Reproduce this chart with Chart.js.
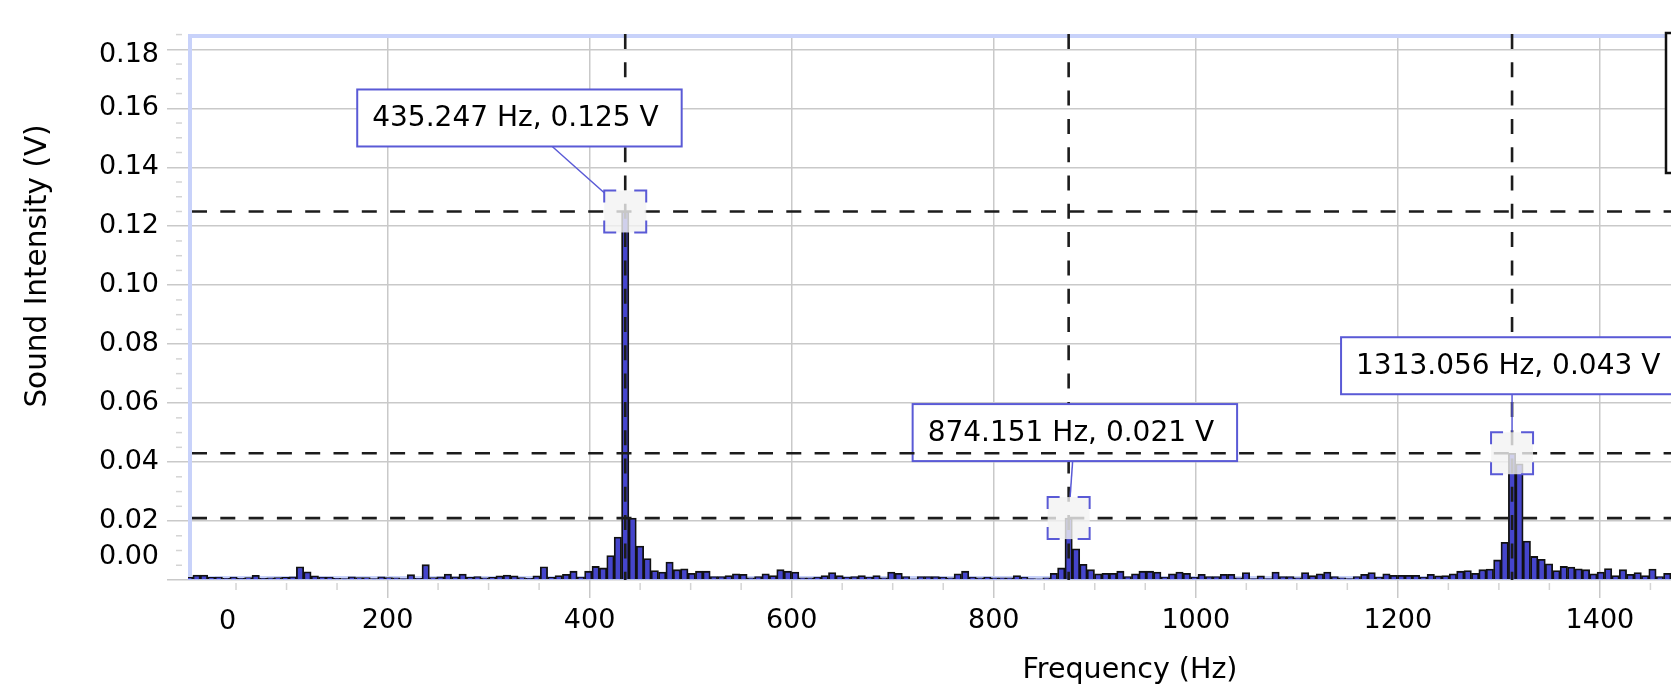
<!DOCTYPE html>
<html>
<head>
<meta charset="utf-8">
<script src="https://cdn.jsdelivr.net/npm/chart.js@4.4.1/dist/chart.umd.min.js"></script>
<style>
  html, body { margin: 0; padding: 0; background: #fff; overflow: hidden; }
  #wrap { width: 2090px; height: 685px; }
</style>
</head>
<body>
<div id="wrap"><canvas id="fft" width="2090" height="685"></canvas></div>
<script>
// FFT bin width in Hz (the peak readouts sit at 59.5, 119.5 and 179.5 bins)
const BIN_HZ = 7.31508;

// amplitude of each FFT bin (V)
const VOLTS = [
  0.0009, 0.0017, 0.0017, 0.0009, 0.0010, 0.0006, 0.0010, 0.0006, 0.0008, 0.0016,
  0.0006, 0.0007, 0.0008, 0.0009, 0.0011, 0.0045, 0.0028, 0.0014, 0.0010, 0.0010,
  0.0006, 0.0005, 0.0011, 0.0008, 0.0008, 0.0005, 0.0011, 0.0008, 0.0007, 0.0005,
  0.0018, 0.0006, 0.0052, 0.0008, 0.0011, 0.0020, 0.0011, 0.0020, 0.0009, 0.0012,
  0.0007, 0.0009, 0.0014, 0.0017, 0.0014, 0.0008, 0.0006, 0.0014, 0.0045, 0.0009,
  0.0015, 0.0019, 0.0030, 0.0010, 0.0030, 0.0046, 0.0041, 0.0083, 0.0146, 0.1250,
  0.0210, 0.0115, 0.0073, 0.0032, 0.0027, 0.0061, 0.0035, 0.0038, 0.0023, 0.0030,
  0.0030, 0.0012, 0.0012, 0.0015, 0.0021, 0.0019, 0.0007, 0.0012, 0.0021, 0.0015,
  0.0035, 0.0030, 0.0027, 0.0007, 0.0007, 0.0010, 0.0015, 0.0025, 0.0015, 0.0010,
  0.0012, 0.0015, 0.0010, 0.0015, 0.0007, 0.0027, 0.0023, 0.0012, 0.0004, 0.0012,
  0.0012, 0.0012, 0.0010, 0.0007, 0.0021, 0.0030, 0.0010, 0.0007, 0.0010, 0.0007,
  0.0007, 0.0007, 0.0015, 0.0010, 0.0005, 0.0004, 0.0007, 0.0023, 0.0041, 0.0210,
  0.0106, 0.0053, 0.0035, 0.0021, 0.0023, 0.0023, 0.0030, 0.0012, 0.0021, 0.0030,
  0.0030, 0.0027, 0.0010, 0.0021, 0.0027, 0.0023, 0.0010, 0.0019, 0.0012, 0.0012,
  0.0019, 0.0019, 0.0007, 0.0025, 0.0005, 0.0014, 0.0005, 0.0027, 0.0012, 0.0012,
  0.0007, 0.0025, 0.0015, 0.0021, 0.0027, 0.0012, 0.0007, 0.0005, 0.0012, 0.0019,
  0.0025, 0.0010, 0.0021, 0.0016, 0.0016, 0.0016, 0.0016, 0.0010, 0.0019, 0.0014,
  0.0015, 0.0021, 0.0030, 0.0032, 0.0023, 0.0035, 0.0037, 0.0068, 0.0128, 0.0430,
  0.0394, 0.0132, 0.0080, 0.0070, 0.0055, 0.0032, 0.0046, 0.0044, 0.0038, 0.0035,
  0.0021, 0.0027, 0.0039, 0.0015, 0.0035, 0.0019, 0.0025, 0.0015, 0.0037, 0.0012,
  0.0023
];
// bin centre frequencies
const FREQS = VOLTS.map((v, k) => (k + 0.5) * BIN_HZ);

const X_TICKS = [0, 200, 400, 600, 800, 1000, 1200, 1400, 1600, 1800];
const Y_TICKS = [0, 0.02, 0.04, 0.06, 0.08, 0.10, 0.12, 0.14, 0.16, 0.18];

// examined peaks
const PEAK_HZ = [435.247, 874.151, 1313.056];
const PEAK_V = [0.125, 0.021, 0.043];

// where each readout box sits relative to its peak (px)
const BOXES = [
  { dx: -268, dy: -122, anchor: -73 },
  { dx: -156, dy: -114, anchor: 4 },
  { dx: -171, dy: -116, anchor: 0 }
];

const FONT = 'DejaVu Sans';
const BLUE = '#5a5ad6';

function clipToArea(ctx, a) {
  ctx.beginPath();
  ctx.rect(a.left, a.top, a.right - a.left, a.bottom - a.top);
  ctx.clip();
}

function dashStyle(ctx) {
  ctx.setLineDash([15, 13.3]);
  ctx.lineWidth = 2.6;
  ctx.strokeStyle = '#1c1c1c';
}

const decorations = {
  id: 'decorations',
  beforeDatasetsDraw(chart) {
    const { ctx, chartArea: a } = chart;
    ctx.save();
    ctx.strokeStyle = '#c8d2fa';
    ctx.lineWidth = 4;
    ctx.strokeRect(a.left + 2, a.top + 2, a.right - a.left - 4, a.bottom - a.top - 4);
    ctx.restore();
  },
  afterDatasetsDraw(chart) {
    const { ctx, chartArea: a, scales: { x, y } } = chart;
    const peaks = PEAK_HZ.map((hz, i) => ({
      px: x.getPixelForValue(hz),
      py: y.getPixelForValue(PEAK_V[i])
    }));
    const H = 21, ARM = 12, BOX_H = 57;

    // vertical crosshairs
    ctx.save();
    clipToArea(ctx, a);
    dashStyle(ctx);
    peaks.forEach(p => {
      ctx.beginPath();
      ctx.moveTo(p.px, a.top);
      ctx.lineTo(p.px, a.bottom);
      ctx.stroke();
    });
    ctx.restore();

    // readout boxes
    ctx.save();
    ctx.font = `28px "${FONT}"`;
    const boxes = peaks.map((p, i) => {
      const text = `${PEAK_HZ[i].toFixed(3)} Hz, ${PEAK_V[i].toFixed(3)} V`;
      const b = BOXES[i];
      const w = ctx.measureText(text).width + 38;
      const bx = p.px + b.dx, by = p.py + b.dy;
      ctx.fillStyle = '#fff';
      ctx.fillRect(bx, by, w, BOX_H);
      ctx.strokeStyle = BLUE;
      ctx.lineWidth = 2;
      ctx.strokeRect(bx, by, w, BOX_H);
      ctx.fillStyle = '#000';
      ctx.textAlign = 'left';
      ctx.textBaseline = 'middle';
      ctx.fillText(text, bx + 15, by + BOX_H / 2 + 1);
      return { ax: p.px + b.anchor, ay: by + BOX_H };
    });
    ctx.restore();

    // horizontal crosshairs
    ctx.save();
    clipToArea(ctx, a);
    dashStyle(ctx);
    peaks.forEach(p => {
      ctx.beginPath();
      ctx.moveTo(a.left + 4, p.py);
      ctx.lineTo(a.right, p.py);
      ctx.stroke();
    });
    ctx.restore();

    // leaders and bracket markers
    ctx.save();
    ctx.strokeStyle = BLUE;
    peaks.forEach((p, i) => {
      const { ax, ay } = boxes[i];
      const ddx = p.px - ax, ddy = p.py - ay;
      const tx = Math.abs(ddx) > H ? (Math.abs(ddx) - H) / Math.abs(ddx) : 0;
      const ty = Math.abs(ddy) > H ? (Math.abs(ddy) - H) / Math.abs(ddy) : 0;
      const t = Math.max(tx, ty);
      ctx.lineWidth = 1.5;
      ctx.beginPath();
      ctx.moveTo(ax, ay);
      ctx.lineTo(ax + ddx * t, ay + ddy * t);
      ctx.stroke();

      ctx.fillStyle = 'rgba(242, 242, 242, 0.8)';
      ctx.fillRect(p.px - H, p.py - H, 2 * H, 2 * H);
      ctx.lineWidth = 2;
      [[-1, -1], [1, -1], [1, 1], [-1, 1]].forEach(([sx, sy]) => {
        const cx = p.px + sx * H, cy = p.py + sy * H;
        ctx.beginPath();
        ctx.moveTo(cx, cy - sy * ARM);
        ctx.lineTo(cx, cy);
        ctx.lineTo(cx - sx * ARM, cy);
        ctx.stroke();
      });
    });
    ctx.restore();

    // stats box at the top right, mostly off screen
    ctx.save();
    ctx.fillStyle = '#fff';
    ctx.strokeStyle = '#111';
    ctx.lineWidth = 2.5;
    ctx.fillRect(1666, 33, 300, 140);
    ctx.strokeRect(1666, 33, 300, 140);
    ctx.restore();
  },
  afterDraw(chart) {
    const { ctx, chartArea: a, scales: { x, y } } = chart;
    ctx.save();
    // minor ticks
    ctx.strokeStyle = '#d4d4d4';
    ctx.lineWidth = 1.5;
    for (let v = 0.005; v < y.max; v += 0.005) {
      if (Math.abs(v / 0.02 - Math.round(v / 0.02)) < 1e-6) continue;
      const py = y.getPixelForValue(v);
      ctx.beginPath();
      ctx.moveTo(a.left - 12, py);
      ctx.lineTo(a.left - 6, py);
      ctx.stroke();
    }
    for (let v = 50; v < x.max; v += 50) {
      if (v % 200 === 0 || v < x.min) continue;
      const px = x.getPixelForValue(v);
      ctx.beginPath();
      ctx.moveTo(px, a.bottom + 3);
      ctx.lineTo(px, a.bottom + 10);
      ctx.stroke();
    }

    // edge labels pushed inside the plot, as the original software does
    ctx.fillStyle = '#000';
    ctx.font = `27px "${FONT}"`;
    ctx.textBaseline = 'middle';
    ctx.textAlign = 'center';
    ctx.fillText('0', x.getPixelForValue(0) + 42, x.top + 41.5);
    ctx.textAlign = 'right';
    ctx.fillText('0.00', a.left - 29, y.getPixelForValue(0) - 23);
    ctx.fillText('0.18', a.left - 29, y.getPixelForValue(0.18) + 6);

    // y axis title
    ctx.font = `29.5px "${FONT}"`;
    ctx.textAlign = 'center';
    ctx.translate(38, 266);
    ctx.rotate(-Math.PI / 2);
    ctx.fillText('Sound Intensity (V)', 0, 0);
    ctx.restore();
  }
};

new Chart(document.getElementById('fft'), {
  type: 'bar',
  data: {
    datasets: [{
      data: FREQS.map((f, i) => ({ x: f, y: VOLTS[i] })),
      backgroundColor: '#4545cc',
      borderColor: '#111',
      borderWidth: 1.8,
      barPercentage: 1,
      categoryPercentage: 1
    }]
  },
  options: {
    responsive: false,
    animation: false,
    devicePixelRatio: 1,
    layout: { padding: { top: 34, right: 18, bottom: 0, left: 0 } },
    plugins: { legend: { display: false }, tooltip: { enabled: false } },
    scales: {
      x: {
        type: 'linear',
        min: 2.47,
        max: 1867.3,
        offset: false,
        afterBuildTicks: s => { s.ticks = X_TICKS.filter(v => v >= s.min && v <= s.max).map(v => ({ value: v })); },
        afterFit: s => { s.height = 105; },
        border: { display: false },
        grid: { offset: false, color: '#c9c9c9', lineWidth: 1.5, tickLength: 18 },
        ticks: {
          autoSkip: false, maxRotation: 0, padding: 7, color: '#000',
          font: { family: FONT, size: 27 },
          callback: v => String(v)
        },
        title: {
          display: true, text: 'Frequency (Hz)', color: '#000',
          font: { family: FONT, size: 28.5 }, padding: { top: 0, bottom: -3 }
        }
      },
      y: {
        min: 0,
        max: 0.1852,
        afterBuildTicks: s => { s.ticks = Y_TICKS.map(v => ({ value: v })); },
        afterFit: s => { s.width = 188; },
        border: { display: false },
        grid: { color: '#c9c9c9', lineWidth: 1.5, tickLength: 21 },
        ticks: {
          autoSkip: false, padding: 8, color: '#000',
          font: { family: FONT, size: 27 },
          callback: v => (v === 0 || Math.abs(v - 0.18) < 1e-9) ? '' : v.toFixed(2)
        }
      }
    }
  },
  plugins: [decorations]
});
</script>
</body>
</html>
